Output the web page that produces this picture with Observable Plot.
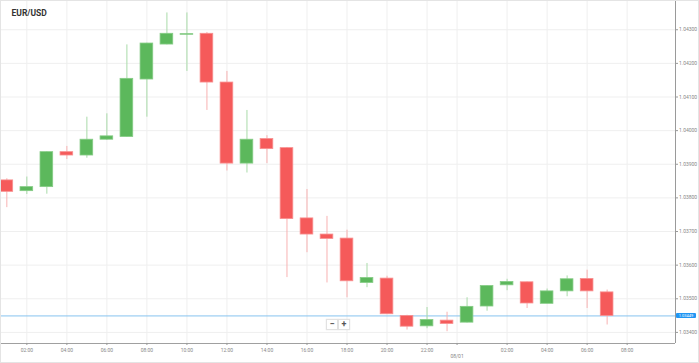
<!DOCTYPE html>
<html><head><meta charset="utf-8">
<script src="https://cdn.jsdelivr.net/npm/d3@7"></script>
<script src="https://cdn.jsdelivr.net/npm/@observablehq/plot@0.6"></script>
<style>
html,body{margin:0;padding:0;background:#fff;}
#wrap{position:relative;width:699px;height:363px;overflow:hidden;font-family:Roboto,sans-serif;}
#border{position:absolute;left:0;top:0;width:697px;height:361px;border:1px solid #e4e4e4;pointer-events:none;}
.btn{position:absolute;top:319px;width:10px;height:9px;background:#fff;border:1px solid #e2e2e2;box-shadow:0 0 1px #ddd;color:#555;font-size:9px;line-height:9px;text-align:center;font-weight:bold;}
#plabel{position:absolute;left:676px;width:20px;height:5px;background:#2196f3;color:#fff;font-size:4px;line-height:5px;text-align:center;border-radius:1px;}
</style></head><body><div id="wrap"></div>
<script>
const title = "EUR/USD";
const times = [
 "2025-01-07T01:00Z","2025-01-07T02:00Z","2025-01-07T03:00Z","2025-01-07T04:00Z","2025-01-07T05:00Z",
 "2025-01-07T06:00Z","2025-01-07T07:00Z","2025-01-07T08:00Z","2025-01-07T09:00Z","2025-01-07T10:00Z",
 "2025-01-07T11:00Z","2025-01-07T12:00Z","2025-01-07T13:00Z","2025-01-07T14:00Z","2025-01-07T15:00Z",
 "2025-01-07T16:00Z","2025-01-07T17:00Z","2025-01-07T18:00Z","2025-01-07T19:00Z","2025-01-07T20:00Z",
 "2025-01-07T21:00Z","2025-01-07T22:00Z","2025-01-07T23:00Z","2025-01-08T00:00Z","2025-01-08T01:00Z",
 "2025-01-08T02:00Z","2025-01-08T03:00Z","2025-01-08T04:00Z","2025-01-08T05:00Z","2025-01-08T06:00Z",
 "2025-01-08T07:00Z"];
const open  = [1.03852,1.03820,1.03832,1.03936,1.03926,1.03973,1.03981,1.04152,1.04256,1.04285,
               1.04288,1.04143,1.03902,1.03975,1.03948,1.03739,1.03691,1.03679,1.03547,1.03560,
               1.03449,1.03418,1.03435,1.03429,1.03477,1.03540,1.03549,1.03485,1.03522,1.03559,1.03519];
const high  = [1.03857,1.03862,1.03937,1.03953,1.04040,1.04050,1.04255,1.04260,1.04350,1.04350,
               1.04292,1.04176,1.04060,1.03985,1.03950,1.03825,1.03745,1.03704,1.03605,1.03567,
               1.03451,1.03474,1.03460,1.03503,1.03539,1.03558,1.03550,1.03529,1.03568,1.03585,1.03526];
const low   = [1.03771,1.03810,1.03811,1.03914,1.03918,1.03971,1.03980,1.04040,1.04255,1.04176,
               1.04060,1.03880,1.03874,1.03902,1.03563,1.03637,1.03547,1.03503,1.03533,1.03453,
               1.03407,1.03411,1.03402,1.03428,1.03463,1.03524,1.03471,1.03485,1.03506,1.03471,1.03422];
const close = [1.03818,1.03832,1.03936,1.03926,1.03973,1.03983,1.04154,1.04259,1.04288,1.04287,
               1.04143,1.03902,1.03973,1.03945,1.03737,1.03691,1.03678,1.03552,1.03562,1.03454,
               1.03417,1.03437,1.03425,1.03476,1.03538,1.03550,1.03486,1.03522,1.03558,1.03522,1.03449];
const yTicks = [1.034,1.035,1.036,1.037,1.038,1.039,1.040,1.041,1.042,1.043];
const xTicks = ["2025-01-07T02:00Z","2025-01-07T04:00Z","2025-01-07T06:00Z","2025-01-07T08:00Z",
  "2025-01-07T10:00Z","2025-01-07T12:00Z","2025-01-07T14:00Z","2025-01-07T16:00Z","2025-01-07T18:00Z",
  "2025-01-07T20:00Z","2025-01-07T22:00Z","2025-01-08T02:00Z","2025-01-08T04:00Z","2025-01-08T06:00Z",
  "2025-01-08T08:00Z"];
const dateTick = "2025-01-07T23:30Z";
const dateLabel = "08/01";
const lastPrice = 1.03449;
const xDomain = ["2025-01-07T00:41Z","2025-01-08T10:25Z"];
const yDomain = [1.03367, 1.04384];

const GREEN = "#5cb85c", RED = "#f55a5a";
const GREEN_W = "#a9dba9", RED_W = "#f8b2b2";
const GREEN_S = "#86cc86", RED_S = "#f89090";

const data = times.map((t, i) => ({
  t: new Date(t), o: open[i], h: high[i], l: low[i], c: close[i], up: close[i] >= open[i]
}));
const half = 19 * 60 * 1000;
const xTickDates = xTicks.map(d => new Date(d));
const xd = xDomain.map(d => new Date(d));

const plot = Plot.plot({
  width: 699, height: 363,
  marginTop: 1, marginLeft: 0, marginRight: 24, marginBottom: 20,
  style: {fontFamily: "Roboto, sans-serif", background: "white", overflow: "visible"},
  x: {type: "utc", domain: xd, axis: null, label: null},
  y: {domain: yDomain, axis: null, label: null},
  marks: [
    Plot.gridX([...xTickDates, new Date(dateTick)], {stroke: "#efefef", strokeOpacity: 1}),
    Plot.gridY(yTicks, {stroke: "#efefef", strokeOpacity: 1}),
    Plot.ruleY([lastPrice], {stroke: "#86c3ef", strokeWidth: 1}),
    Plot.ruleX(data, {x: "t", y1: "l", y2: "h", stroke: d => d.up ? GREEN_W : RED_W, strokeWidth: 1}),
    Plot.rect(data, {
      x1: d => new Date(+d.t - half), x2: d => new Date(+d.t + half),
      y1: "o", y2: "c",
      fill: d => d.up ? GREEN : RED, stroke: d => d.up ? GREEN_S : RED_S, strokeWidth: 0.8
    }),
    Plot.ruleY([yDomain[0]], {stroke: "#a0a0a0"}),
    Plot.ruleX([xd[1]], {stroke: "#9a9a9a"}),
    Plot.axisX(xTickDates, {label: null, tickFormat: d3.utcFormat("%H:%M"), tickSize: 2, tickPadding: 2.5, fontSize: 5, color: "#888", stroke: "#999"}),
    Plot.axisX([new Date(dateTick)], {label: null, tickFormat: () => dateLabel, tickSize: 2, tickPadding: 9, fontSize: 5, color: "#888", stroke: "#999"}),
    Plot.axisY(yTicks, {label: null, anchor: "right", tickFormat: d3.format(".5f"), tickSize: 2, tickPadding: 1.5, fontSize: 5, color: "#888", stroke: "#999"}),
    Plot.text([title], {text: d => d, frameAnchor: "top-left", dx: 11, dy: 8, fontSize: 8.5, fontWeight: "bold", fill: "#333", textAnchor: "start"})
  ]
});

const wrap = document.getElementById("wrap");
wrap.appendChild(plot);
const b = document.createElement("div"); b.id = "border"; wrap.appendChild(b);
const py = plot.scale("y").apply(lastPrice);
const lab = document.createElement("div");
lab.id = "plabel"; lab.textContent = d3.format(".5f")(lastPrice);
lab.style.top = (py - 2.5) + "px";
wrap.appendChild(lab);
["−", "+"].forEach((s, i) => {
  const e = document.createElement("div");
  e.className = "btn"; e.textContent = s;
  e.style.left = (326 + i * 12) + "px";
  wrap.appendChild(e);
});
</script></body></html>
